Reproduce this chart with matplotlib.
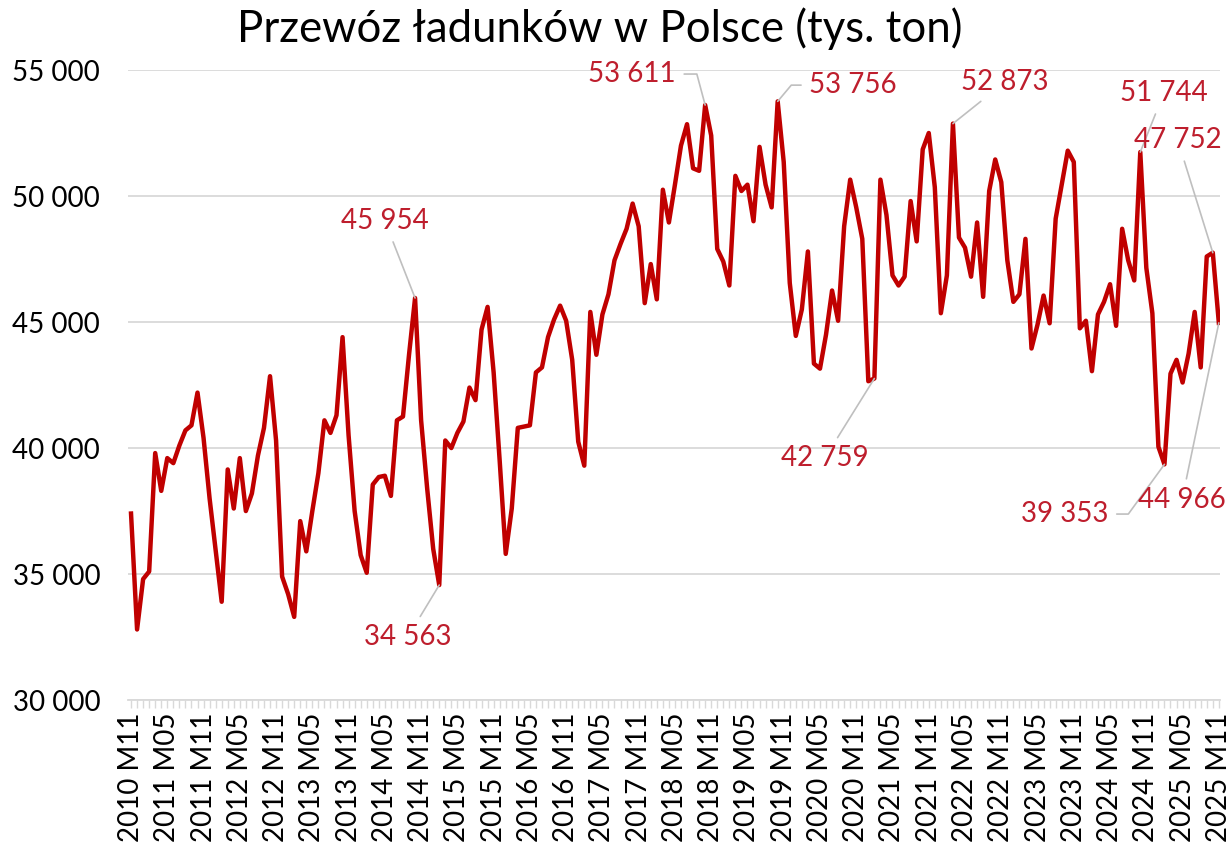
import matplotlib.pyplot as plt
from matplotlib.ticker import FixedLocator, MultipleLocator

plt.rcParams['font.family'] = ['Lato', 'DejaVu Sans']

# monthly freight transport in Poland, thousand tonnes (2010 M11 .. 2025 M11)
y2010 = [37400, 32800]
y2011 = [34800, 35100, 39800, 38300, 39600, 39400, 40100, 40700, 40900, 42200, 40400, 38000]
y2012 = [35950, 33900, 39150, 37600, 39600, 37500, 38200, 39700, 40800, 42850, 40300, 34900]
y2013 = [34200, 33300, 37100, 35900, 37500, 39000, 41100, 40600, 41300, 44400, 40500, 37500]
y2014 = [35750, 35050, 38550, 38850, 38900, 38100, 41100, 41250, 43700, 45954, 41100, 38400]
y2015 = [36000, 34563, 40300, 40000, 40600, 41050, 42400, 41900, 44700, 45600, 43000, 39500]
y2016 = [35800, 37600, 40800, 40850, 40900, 43000, 43200, 44400, 45100, 45650, 45050, 43500]
y2017 = [40250, 39300, 45400, 43700, 45300, 46100, 47450, 48100, 48700, 49700, 48800, 45750]
y2018 = [47300, 45900, 50250, 48950, 50450, 52000, 52850, 51100, 51000, 53611, 52400, 47900]
y2019 = [47400, 46450, 50800, 50200, 50450, 49000, 51950, 50450, 49550, 53756, 51350, 46550]
y2020 = [44450, 45500, 47800, 43350, 43150, 44500, 46250, 45050, 48800, 50650, 49550, 48300]
y2021 = [42650, 42759, 50650, 49250, 46850, 46450, 46800, 49800, 48200, 51850, 52500, 50350]
y2022 = [45350, 46850, 52873, 48350, 47950, 46800, 48950, 46000, 50200, 51450, 50550, 47450]
y2023 = [45800, 46100, 48300, 43950, 44900, 46050, 44950, 49100, 50450, 51800, 51350, 44750]
y2024 = [45050, 43050, 45300, 45800, 46500, 44850, 48700, 47450, 46650, 51744, 47150, 45350]
y2025 = [40050, 39353, 42950, 43500, 42600, 43750, 45400, 43200, 47600, 47752, 44966]

values = (y2010 + y2011 + y2012 + y2013 + y2014 + y2015 + y2016 + y2017
          + y2018 + y2019 + y2020 + y2021 + y2022 + y2023 + y2024 + y2025)
months = list(range(len(values)))

tick_labels = ["2010 M11", "2011 M05", "2011 M11", "2012 M05", "2012 M11", "2013 M05",
               "2013 M11", "2014 M05", "2014 M11", "2015 M05", "2015 M11", "2016 M05",
               "2016 M11", "2017 M05", "2017 M11", "2018 M05", "2018 M11", "2019 M05",
               "2019 M11", "2020 M05", "2020 M11", "2021 M05", "2021 M11", "2022 M05",
               "2022 M11", "2023 M05", "2023 M11", "2024 M05", "2024 M11", "2025 M05",
               "2025 M11"]
tick_pos = list(range(0, len(values), 6))

# labelled points: month index, text position (month, value), leader shape
label_idx = [47, 51, 95, 107, 123, 136, 167, 171, 179, 180]
label_text_x = [42.0, 45.8, 82.9, 119.5, 114.8, 144.6, 170.9, 154.5, 173.2, 173.9]
label_text_y = [49010, 32500, 54840, 54400, 39600, 54520, 54085, 37380, 52220, 37936]
label_conn = ["arc3", "arc3", "angle,angleA=0,angleB=105,rad=0",
              "angle,angleA=0,angleB=50,rad=0", "arc3", "arc3", "arc3",
              "angle,angleA=0,angleB=54,rad=0", "arc3", "arc3"]

red = '#C00000'
label_red = '#BE1E2D'
grid_grey = '#D9D9D9'

fig = plt.figure(figsize=(12.32, 8.56), dpi=100)
ax = fig.add_axes([0.1039, 0.1822, 0.8864, 0.7360])

ax.plot(months, values, color=red, lw=3.2, solid_joinstyle='round', zorder=3)

for i, tx, ty, conn in zip(label_idx, label_text_x, label_text_y, label_conn):
    txt = f"{values[i]:,}".replace(",", " ")
    ax.annotate(txt, xy=(i, values[i]), xytext=(tx, ty), ha='center', va='center',
                fontsize=20, color=label_red,
                arrowprops=dict(arrowstyle='-', color='#BFBFBF', lw=1.2,
                                shrinkA=4, shrinkB=0, connectionstyle=conn),
                annotation_clip=False, zorder=4)

ax.set_xlim(-0.5, 180.2)
ax.set_ylim(30000, 55000)
ax.set_yticks([30000, 35000, 40000, 45000, 50000, 55000])
ax.set_yticklabels(["30 000", "35 000", "40 000", "45 000", "50 000", "55 000"])
ax.xaxis.set_major_locator(FixedLocator(tick_pos))
ax.set_xticklabels(tick_labels, rotation=90)
ax.xaxis.set_minor_locator(MultipleLocator(1))

ax.grid(axis='y', color=grid_grey, lw=1.3)
ax.set_axisbelow(True)
for s in ['left', 'right', 'top']:
    ax.spines[s].set_visible(False)
ax.spines['bottom'].set_color(grid_grey)
ax.spines['bottom'].set_linewidth(1.3)

ax.tick_params(axis='y', length=0, pad=20, labelsize=20, labelcolor='#000000')
ax.tick_params(axis='x', which='both', length=6, color=grid_grey, width=1,
               pad=3, labelsize=20)

fig.text(0.487, 0.966, "Przewóz ładunków w Polsce (tys. ton)", ha='center', va='center',
         fontsize=31.5)

fig.savefig("out.png", dpi=100)
